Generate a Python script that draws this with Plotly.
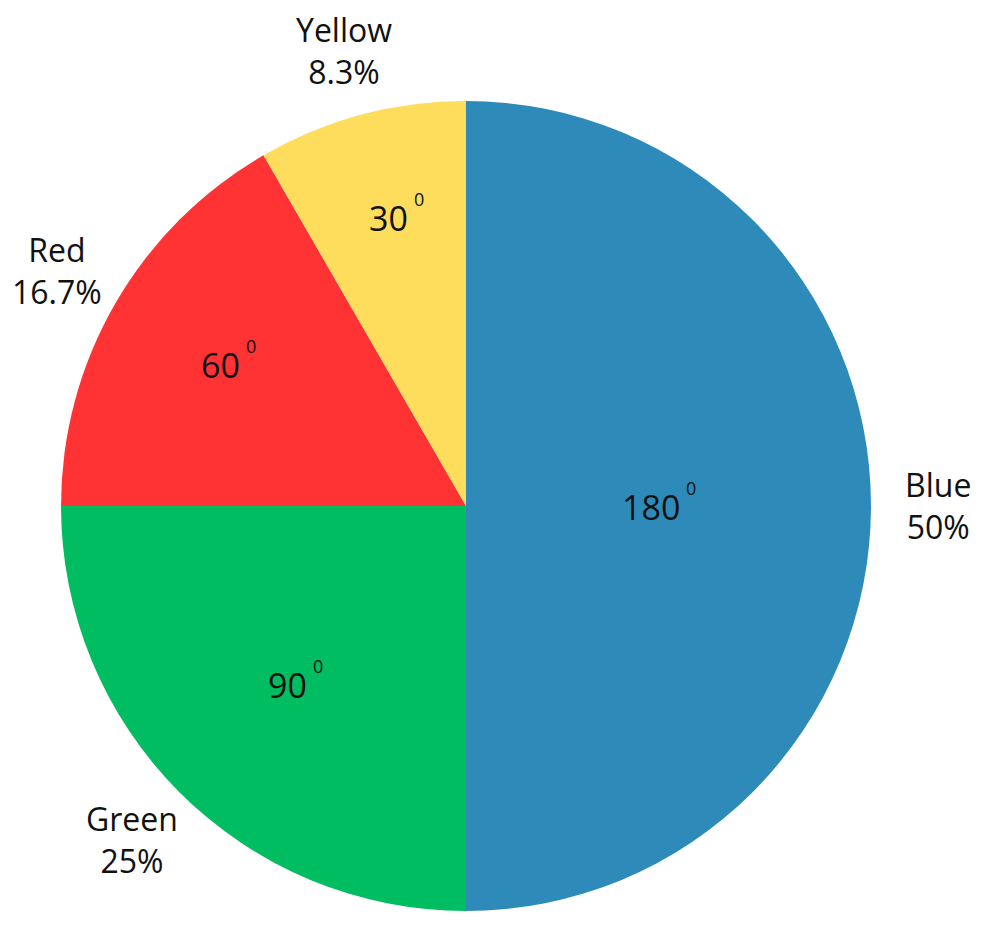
import math
import plotly.graph_objects as go

labels = ["Blue", "Green", "Red", "Yellow"]
degrees = [180, 90, 60, 30]
colors = ["#2E8BB9", "#00BD62", "#FF3333", "#FFDD5C"]
pct_text = ["50%", "25%", "16.7%", "8.3%"]
inner_r = [0.457, 0.622, 0.70, 0.738]

W, H = 989, 941
cx, cy, R = 466, 506, 405

fig = go.Figure(go.Pie(
    labels=labels, values=degrees, sort=False, direction="clockwise", rotation=0,
    marker=dict(colors=colors, line=dict(width=0)),
    textinfo="none", hoverinfo="label+value", showlegend=False,
    domain=dict(x=[(cx - R) / W, (cx + R) / W], y=[1 - (cy + R) / H, 1 - (cy - R) / H]),
))

total = sum(degrees)
start = 0.0
font = "Open Sans, Noto Sans, sans-serif"
main_size = 34
for lab, v, p, fr in zip(labels, degrees, pct_text, inner_r):
    mid = start + v / total * 360 / 2
    start += v / total * 360
    a = math.radians(mid)
    dx, dy = math.sin(a), -math.cos(a)
    ox, oy = cx + dx * R * 1.165, cy + dy * R * 1.165
    fig.add_annotation(x=ox / W, y=1 - oy / H, xref="paper", yref="paper",
                       text=f"{lab}<br>{p}", showarrow=False,
                       font=dict(family=font, size=32, color="#111111"),
                       xanchor="center", yanchor="middle", align="center")
    ix, iy = cx + dx * R * fr, cy + dy * R * fr + 1
    num = str(v)
    fig.add_annotation(x=ix / W, y=1 - iy / H, xref="paper", yref="paper",
                       text=num, showarrow=False,
                       font=dict(family=font, size=main_size, color="#111111"),
                       xanchor="center", yanchor="middle")
    half_w = len(num) * 0.572 * main_size / 2
    fig.add_annotation(x=ix / W, y=1 - iy / H, xref="paper", yref="paper",
                       text="0", showarrow=False, xshift=half_w + 4, yshift=19,
                       font=dict(family=font, size=18, color="#111111"),
                       xanchor="left", yanchor="middle")

fig.update_layout(width=W, height=H, margin=dict(l=0, r=0, t=0, b=0),
                  paper_bgcolor="white", plot_bgcolor="white")
fig.write_html("out.html", config={"displayModeBar": False},
               post_script="document.body.style.margin='0';")
